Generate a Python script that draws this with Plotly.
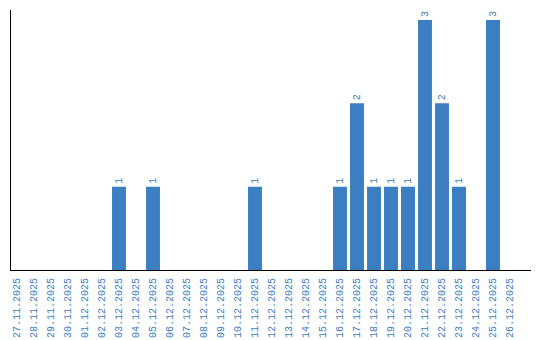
import plotly.graph_objects as go

dates = ["27.11.2025", "28.11.2025", "29.11.2025", "30.11.2025", "01.12.2025", "02.12.2025",
         "03.12.2025", "04.12.2025", "05.12.2025", "06.12.2025", "07.12.2025", "08.12.2025",
         "09.12.2025", "10.12.2025", "11.12.2025", "12.12.2025", "13.12.2025", "14.12.2025",
         "15.12.2025", "16.12.2025", "17.12.2025", "18.12.2025", "19.12.2025", "20.12.2025",
         "21.12.2025", "22.12.2025", "23.12.2025", "24.12.2025", "25.12.2025", "26.12.2025"]
counts = [0, 0, 0, 0, 0, 0,
          1, 0, 1, 0, 0, 0,
          0, 0, 1, 0, 0, 0,
          0, 1, 2, 1, 1, 1,
          3, 2, 1, 0, 3, 0]

labels = [str(v) if v > 0 else "" for v in counts]
blue = "#3b7ec2"

fig = go.Figure(go.Bar(
    x=dates, y=counts, text=labels, textposition="outside", textangle=-90,
    textfont=dict(family="Liberation Mono", size=10, color=blue),
    marker=dict(color=blue, line=dict(width=0)), cliponaxis=False,
))
fig.update_layout(
    width=540, height=340, margin=dict(l=11, r=9, t=10, b=70),
    paper_bgcolor="white", plot_bgcolor="white", bargap=0.18, showlegend=False,
)
fig.update_xaxes(type="category", range=[-0.353, 30.235], tickangle=-90,
                 tickfont=dict(family="Liberation Mono", size=10, color=blue),
                 ticklabelstandoff=3, automargin=False,
                 showline=True, linecolor="black", linewidth=1, ticks="", showgrid=False)
fig.update_yaxes(range=[0, 3.12], showline=True, linecolor="black", linewidth=1,
                 showticklabels=False, ticks="", showgrid=False, zeroline=False,
                 automargin=False)
fig.write_html("out.html")
